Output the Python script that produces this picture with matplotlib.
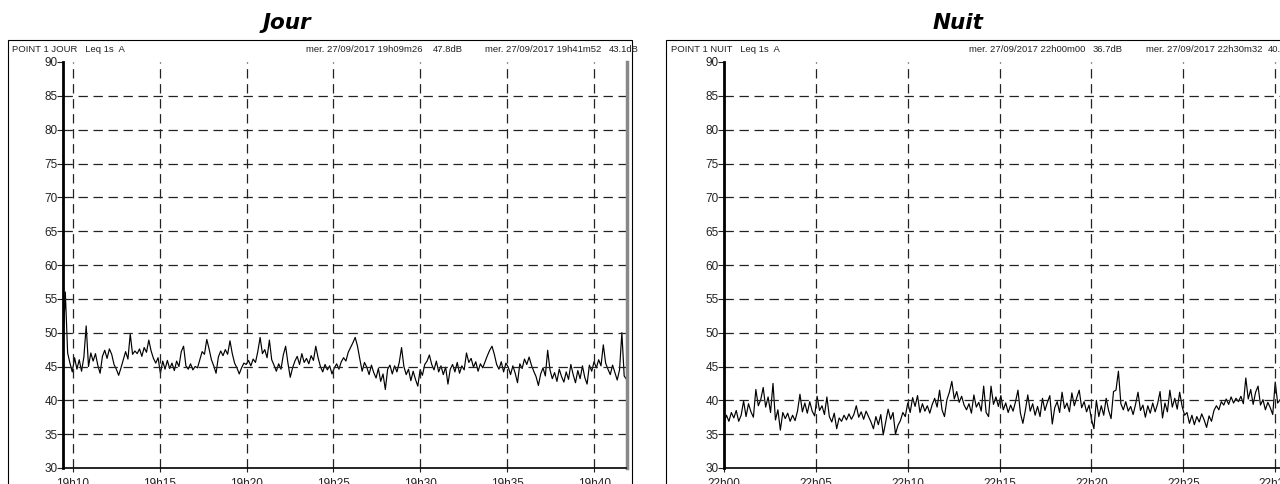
import numpy as np
import matplotlib
matplotlib.use("Agg")
from matplotlib import pyplot as plt
from matplotlib.patches import Rectangle

# Leq 1s A, every ~8 s (dB)
jour_db = [47.8, 56, 47, 45.5, 44.2, 46.3, 44.6, 46, 44.3, 46.4,
           51, 45, 47, 45.8, 46.9, 45.2, 44, 46.5, 47.4, 46.2,
           47.6, 46.8, 45.3, 44.6, 43.7, 44.8, 46, 47.2, 46.1, 49.8,
           46.8, 47.3, 46.9, 47.6, 46.5, 47.8, 47.1, 48.9, 47.3, 46.2,
           45.5, 46.3, 44, 45.8, 44.6, 45.9, 44.7, 45.5, 44.4, 45.8,
           45, 47.2, 48, 45.1, 44.6, 45.4, 44.5, 45, 44.8, 46,
           47.2, 46.8, 49, 47.6, 46, 45.1, 44, 46.4, 47.3, 46.6,
           47.5, 46.8, 48.8, 46.9, 45.5, 44.8, 43.9, 44.8, 45.5, 45.3,
           45.9, 45.1, 46.1, 45.6, 47.2, 49.3, 46.9, 47.5, 46.3, 48.9,
           46, 45.2, 44.3, 45.4, 44.6, 46.7, 48, 45.5, 43.4, 44.8,
           45.8, 46.5, 45.3, 46.9, 45.6, 46.2, 45.4, 46.6, 45.9, 48,
           46.3, 45, 44.2, 45.3, 44.5, 45.1, 43.9, 44.8, 45.4, 44.6,
           45.7, 46.3, 45.8, 47.1, 47.8, 48.5, 49.3, 48, 46.1, 44.3,
           45.6, 44.9, 43.8, 45.2, 44.1, 43.3, 44.7, 42.8, 43.9, 41.6,
           44.6, 45.2, 43.9, 45.1, 44.2, 45.6, 47.8, 45, 43.8, 44.6,
           42.9, 44.3, 43.1, 42.1, 44.5, 43.7, 45.3, 45.8, 46.7, 45.3,
           44.5, 45.8, 44.2, 45.1, 43.8, 44.9, 42.4, 44.6, 45.3, 44.2,
           45.6, 44, 45.1, 44.5, 47, 45.6, 46.2, 44.9, 45.7, 44.3,
           45.4, 44.8, 45.7, 46.6, 47.4, 48, 46.8, 45.3, 44.6, 45.7,
           44.2, 45.5, 44.9, 43.8, 45.1, 44, 42.6, 45.4, 44.7, 46.1,
           45.3, 46.4, 45.2, 44.3, 43.5, 42.2, 43.9, 44.8, 43.6, 47.4,
           44.5, 43.2, 44.1, 42.8, 44.6, 43.5, 42.7, 44.2, 43.1, 45.3,
           43.8, 42.6, 44.4, 43.2, 45.1, 43.4, 42.4, 45.2, 44.3, 45.7,
           44.8, 46, 45.1, 48.2, 45.5, 44.6, 43.8, 45.2, 44.1, 43,
           44.5, 50, 43.6, 43.1]

nuit_db = [36.7, 37.8, 36.9, 38.2, 37.4, 38.5, 36.9, 37.8, 39.9, 37.6,
           39.5, 38.3, 37.5, 41.6, 39.2, 40.1, 41.9, 39, 40.5, 38.2,
           42.5, 37.1, 38.6, 35.6, 38.2, 37.3, 38.1, 36.9, 37.8, 37,
           38.4, 40.9, 38.3, 39.6, 38.1, 39.8, 38.4, 37.7, 40.6, 38.5,
           39.2, 37.9, 40.5, 37.6, 36.8, 38.1, 35.8, 37.4, 36.9, 37.8,
           37.1, 38, 37.2, 37.9, 39.2, 37.5, 38.3, 37.2, 38.4, 37.6,
           36.8, 35.8, 37.6, 36.4, 37.9, 34.9, 36.8, 38.7, 37.2, 38.2,
           35, 36.3, 37, 38.2, 37.6, 39.6, 38.2, 40.4, 39.1, 40.7,
           38.2, 39.5, 38.4, 39.2, 38.1, 39.4, 40.3, 39, 41.5, 38.6,
           37.6, 40.1, 41.2, 42.8, 40.2, 41.3, 39.7, 40.6, 39.3, 38.6,
           39.5, 38.1, 40.8, 39, 39.7, 38.4, 42.1, 38.2, 37.6, 42.1,
           39.4, 40.5, 39.1, 40.7, 38.6, 39.6, 38.2, 39.3, 38.4, 39.8,
           41.5, 38.1, 36.6, 38.5, 40.8, 38.4, 39.5, 37.8, 39.1, 37.6,
           40.3, 38.5, 39.7, 40.7, 36.5, 38.9, 39.8, 38.2, 41.2, 38.8,
           39.6, 38.3, 41.1, 39.2, 40.4, 41.5, 38.9, 39.8, 38.3, 39.3,
           37.2, 35.8, 40, 37.6, 39.2, 37.8, 40.3, 38.5, 37.3, 41.3,
           41.5, 44.3, 39.5, 38.6, 39.8, 38.4, 39.1, 37.9, 39.4, 41.2,
           38.5, 39.3, 37.5, 39.2, 38.1, 39.6, 38.3, 39.5, 41.3, 37.4,
           39.6, 38.3, 41.5, 39, 40.3, 38.7, 41.2, 39.1, 37.8, 38.2,
           36.6, 37.8, 36.4, 37.6, 36.8, 38, 37.1, 36, 37.7, 36.9,
           38.5, 39.2, 38.6, 39.8, 39.3, 40.2, 39.4, 40.5, 39.6, 40.3,
           39.8, 40.6, 39.5, 43.3, 40.2, 41.6, 39.4, 41.2, 42.1, 39.3,
           40.1, 38.6, 39.7, 38.9, 37.9, 42.7, 39.6, 40.1, 39.4, 40.7]

# start / end of each record, minutes after the hour
jour_start, jour_end = 9 + 26 / 60, 41 + 52 / 60
nuit_start, nuit_end = 0.0, 30 + 32 / 60

jour_ticks = [10, 15, 20, 25, 30, 35, 40]
jour_labels = ["19h10", "19h15", "19h20", "19h25", "19h30", "19h35", "19h40"]
nuit_ticks = [0, 5, 10, 15, 20, 25, 30]
nuit_labels = ["22h00", "22h05", "22h10", "22h15", "22h20", "22h25", "22h30"]
y_ticks = [30, 35, 40, 45, 50, 55, 60, 65, 70, 75, 80, 85, 90]

W, H = 1280, 484
fig = plt.figure(figsize=(W / 100, H / 100), dpi=100)


def px_axes(x0, x1, ytop, ybot):
    return fig.add_axes([x0 / W, 1 - ybot / H, (x1 - x0) / W, (ybot - ytop) / H])


def frame(x0, x1, y0):
    fig.patches.append(Rectangle((x0 / W, -0.1), (x1 - x0) / W, 0.1 + 1 - y0 / H,
                                 transform=fig.transFigure, fill=False,
                                 edgecolor="black", linewidth=0.8))


def panel(ax, values, t0, t1, ticks, labels, right_spine=True):
    t = np.linspace(t0, t1, len(values))
    ax.plot(t, values, color="black", linewidth=0.85)
    ax.set_xlim(t0, t1)
    ax.set_ylim(30, 90)
    ax.set_yticks(y_ticks)
    ax.set_xticks(ticks)
    ax.set_xticklabels(labels)
    for yv in y_ticks[1:-1]:
        ax.axhline(yv, color="#222222", linewidth=0.9, linestyle=(0, (7.5, 4.5)))
    for xv in ticks:
        ax.axvline(xv, color="#222222", linewidth=0.9, linestyle=(0, (7.5, 4.5)))
    ax.tick_params(axis="y", labelsize=8.5, length=4, width=0.8, pad=0,
                   colors="#222222")
    ax.tick_params(axis="x", labelsize=8.5, length=3, width=0.8, pad=4,
                   colors="#222222")
    for lab in ax.get_xticklabels() + ax.get_yticklabels():
        lab.set_family("Liberation Sans")
    ax.spines["top"].set_visible(False)
    ax.spines["left"].set_linewidth(2)
    ax.spines["bottom"].set_linewidth(1.2)
    if right_spine:
        ax.spines["right"].set_linewidth(2.5)
        ax.spines["right"].set_color("#888888")
    else:
        ax.spines["right"].set_visible(False)


ax1 = px_axes(63, 626.5, 62, 468)
panel(ax1, jour_db, jour_start, jour_end, jour_ticks, jour_labels)
ax2 = px_axes(724, 1285, 62, 468)
panel(ax2, nuit_db, nuit_start, nuit_end, nuit_ticks, nuit_labels)

frame(8, 632, 40)
frame(666, 1300, 40)

hdr = dict(fontsize=6.8, family="Liberation Sans", color="#222222", va="center")
fy = 1 - 50 / H
fig.text(12 / W, fy, "POINT 1 JOUR   Leq 1s  A", **hdr)
fig.text(306 / W, fy, "mer. 27/09/2017 19h09m26", **hdr)
fig.text(433 / W, fy, "47.8dB", **hdr)
fig.text(485 / W, fy, "mer. 27/09/2017 19h41m52", **hdr)
fig.text(609 / W, fy, "43.1dB", **hdr)

fig.text(671 / W, fy, "POINT 1 NUIT   Leq 1s  A", **hdr)
fig.text(969 / W, fy, "mer. 27/09/2017 22h00m00", **hdr)
fig.text(1093 / W, fy, "36.7dB", **hdr)
fig.text(1146 / W, fy, "mer. 27/09/2017 22h30m32", **hdr)
fig.text(1268 / W, fy, "40.7dB", **hdr)

fig.text(287 / W, 1 - 23 / H, "Jour", fontsize=15.5, fontweight="heavy",
         fontstyle="italic", ha="center", va="center")
fig.text(958 / W, 1 - 23 / H, "Nuit", fontsize=15.5, fontweight="heavy",
         fontstyle="italic", ha="center", va="center")

fig.savefig("out.png", dpi=100)
